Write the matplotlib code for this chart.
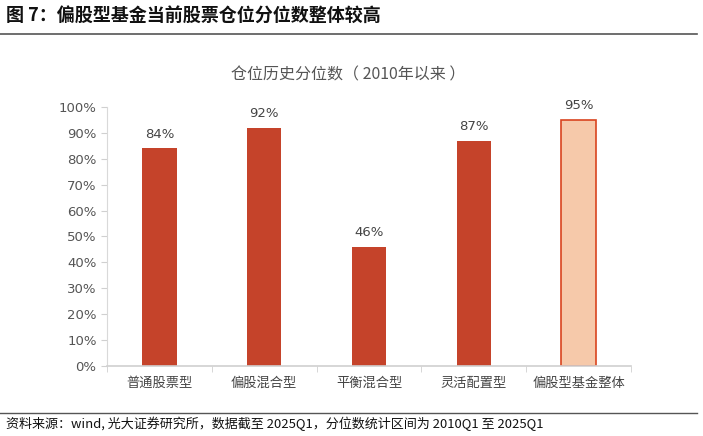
import matplotlib.pyplot as plt
from matplotlib.ticker import PercentFormatter

plt.rcParams['font.family'] = ['Noto Sans CJK SC', 'DejaVu Sans']

categories = ['普通股票型', '偏股混合型', '平衡混合型', '灵活配置型', '偏股型基金整体']
values = [84, 92, 46, 87, 95]
highlight = [False, False, False, False, True]

fig = plt.figure(figsize=(7.03, 4.36), dpi=100)

# header / footer
fig.text(0.008, 0.965, '图 7：偏股型基金当前股票仓位分位数整体较高', fontsize=13,
         fontweight='bold', va='center', ha='left', color='#111111')
fig.add_artist(plt.Line2D([0.0, 0.992], [0.922, 0.922], color='#555555', lw=1.2))
fig.add_artist(plt.Line2D([0.0, 0.992], [0.052, 0.052], color='#555555', lw=1.0))
fig.text(0.008, 0.028, '资料来源：wind, 光大证券研究所，数据截至 2025Q1，分位数统计区间为 2010Q1 至 2025Q1',
         fontsize=9.4, va='center', ha='left', color='#111111')

# chart title
fig.text(0.495, 0.828, '仓位历史分位数（ 2010年以来 ）', fontsize=11.5, color='#555555',
         ha='center', va='center')

ax = fig.add_axes([0.1522, 0.1606, 0.7454, 0.594])
x = range(len(categories))
for i, (v, h) in enumerate(zip(values, highlight)):
    if h:
        ax.bar(i, v, width=0.33, color='#F6C9AA', edgecolor='#D9441F', linewidth=1.2)
    else:
        ax.bar(i, v, width=0.33, color='#C5432A')
    ax.text(i, v + 3, f'{v}%', ha='center', va='bottom', fontsize=9.5,
            color='#444444', family=['DejaVu Sans'])

ax.set_xlim(-0.5, len(categories) - 0.5)
ax.set_ylim(0, 100)
ax.set_yticks(range(0, 101, 10))
ax.yaxis.set_major_formatter(PercentFormatter(decimals=0))
ax.set_xticks(list(x))
ax.set_xticklabels(categories, fontsize=9.5, color='#444444')
ax.set_xticks([i + 0.5 for i in range(-1, len(categories))], minor=True)
ax.tick_params(axis='x', which='major', length=0, pad=8)
ax.tick_params(axis='x', which='minor', length=4, color='#d0d0d0', direction='out')
ax.tick_params(axis='y', length=4, color='#d0d0d0', labelsize=9.5, labelcolor='#555555')
for lab in ax.get_yticklabels():
    lab.set_family('DejaVu Sans')

for s in ['top', 'right']:
    ax.spines[s].set_visible(False)
ax.spines['left'].set_color('#d9d9d9')
ax.spines['bottom'].set_color('#d0d0d0')
ax.spines['bottom'].set_linewidth(1.2)

fig.savefig('out.png', dpi=100)
